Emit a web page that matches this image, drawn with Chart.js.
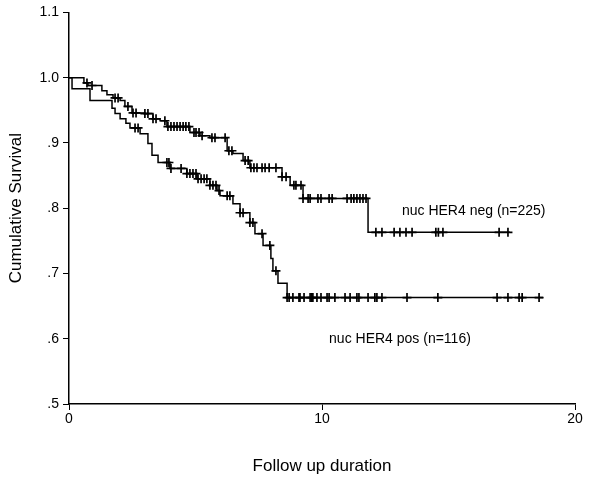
<!DOCTYPE html>
<html lang="en">
<head>
	<meta charset="utf-8" />
	<title>Cumulative Survival</title>
	<style>
		html, body { margin: 0; padding: 0; background: #fff; }
	</style>
</head>
<body>
	<canvas id="c1" width="600" height="481"></canvas>
	<script src="https://cdn.jsdelivr.net/npm/chart.js@4/dist/chart.umd.min.js"></script>
	<script>
		// Kaplan-Meier steps: [event time, survival after the event]
		var negSteps = [
			[0.59, 0.992], [0.75, 0.988], [1.30, 0.980], [1.50, 0.974], [1.74, 0.969],
			[2.02, 0.965], [2.21, 0.956], [2.49, 0.946], [3.00, 0.945], [3.32, 0.937],
			[3.60, 0.934], [3.87, 0.925], [4.78, 0.916], [5.18, 0.911], [5.57, 0.908],
			[6.25, 0.888], [6.48, 0.884], [6.88, 0.873], [7.15, 0.862], [8.42, 0.848],
			[8.74, 0.835], [9.25, 0.815], [11.82, 0.763]
		];
		var negEnd = 17.43;
		var negCensor = [
			0.71, 0.91, 1.82, 1.94, 2.33, 2.53, 2.65, 3.00, 3.12, 3.32, 3.44, 3.79, 3.91,
			4.03, 4.15, 4.27, 4.39, 4.51, 4.62, 4.74, 4.94, 5.02, 5.14, 5.26, 5.65, 5.77,
			6.17, 6.32, 6.44, 6.96, 7.08, 7.19, 7.31, 7.43, 7.63, 7.75, 7.91, 8.18, 8.42,
			8.58, 8.89, 8.97, 9.17, 9.25, 9.45, 9.53, 9.84, 9.96, 10.28, 10.40, 10.99,
			11.15, 11.26, 11.38, 11.50, 11.62, 11.74, 12.13, 12.37, 12.85, 13.08, 13.32,
			13.56, 14.50, 14.60, 14.78, 17.00, 17.35
		];

		var posSteps = [
			[0.12, 0.983], [0.83, 0.965], [1.70, 0.953], [1.82, 0.945], [2.02, 0.937],
			[2.25, 0.930], [2.41, 0.923], [2.81, 0.914], [3.12, 0.899], [3.28, 0.881],
			[3.52, 0.870], [3.99, 0.861], [4.66, 0.853], [5.06, 0.845], [5.57, 0.835],
			[5.85, 0.827], [5.97, 0.819], [6.48, 0.807], [6.76, 0.793], [7.15, 0.778],
			[7.35, 0.761], [7.67, 0.743], [7.98, 0.723], [8.06, 0.704], [8.26, 0.685],
			[8.62, 0.663]
		];
		var posEnd = 18.74;
		var posCensor = [
			2.61, 2.73, 3.87, 3.95, 4.03, 4.43, 4.66, 4.78, 4.90, 5.02, 5.10, 5.22, 5.34,
			5.45, 5.57, 5.69, 5.81, 5.93, 6.25, 6.36, 6.76, 6.88, 7.15, 7.27, 7.63, 7.94,
			8.18, 8.62, 8.70, 8.85, 9.09, 9.13, 9.29, 9.53, 9.60, 9.64, 9.80, 9.96, 10.20,
			10.28, 10.51, 10.91, 11.11, 11.38, 11.46, 11.82, 12.09, 12.17, 12.37, 13.36,
			14.58, 16.92, 17.35, 17.79, 17.91, 18.58
		];

		var xTicks = [0, 10, 20];
		var yTicks = [0.5, 0.6, 0.7, 0.8, 0.9, 1.0, 1.1];
		var curveLabels = [
			{text: 'nuc HER4 neg (n=225)', x: 13.16, y: 0.796},
			{text: 'nuc HER4 pos (n=116)', x: 10.28, y: 0.600}
		];
	</script>
	<script>
		function curve(steps, end)
		{
			var pts = [{x: 0, y: 1}];
			steps.forEach(function(s) { pts.push({x: s[0], y: s[1]}); });
			pts.push({x: end, y: steps[steps.length - 1][1]});
			return pts;
		}
		function survivalAt(steps, t)
		{
			var s = 1;
			for (var i = 0; i < steps.length; i++) {
				if (steps[i][0] <= t) s = steps[i][1];
			}
			return s;
		}
		function censorPoints(steps, times)
		{
			return times.map(function(t) { return {x: t, y: survivalAt(steps, t)}; });
		}
		function yLabel(v)
		{
			var s = v.toFixed(1);
			return v < 1 ? s.replace(/^0/, '') : s;
		}

		var FONT = '"Liberation Sans", Arial, sans-serif';

		var labelPlugin = {
			id: 'curvelabels',
			afterDraw: function(chart) {
				var ctx = chart.ctx;
				var xs = chart.scales.x, ys = chart.scales.y;
				ctx.save();
				ctx.font = '14px ' + FONT;
				ctx.fillStyle = '#000';
				ctx.textBaseline = 'middle';
				curveLabels.forEach(function(l) {
					ctx.fillText(l.text, xs.getPixelForValue(l.x), ys.getPixelForValue(l.y));
				});
				ctx.restore();
			}
		};

		var lineStyle = {
			borderColor: '#000', borderWidth: 1.5, pointRadius: 0, fill: false, stepped: 'before'
		};
		var markStyle = {
			type: 'scatter', pointStyle: 'cross', pointRadius: 4.5, borderColor: '#000',
			borderWidth: 1.7, showLine: false
		};

		var config = {
			type: 'line',
			plugins: [labelPlugin],
			data: {
				datasets: [
					Object.assign({label: 'neg', data: curve(negSteps, negEnd)}, lineStyle),
					Object.assign({label: 'pos', data: curve(posSteps, posEnd)}, lineStyle),
					Object.assign({label: 'neg censored', data: censorPoints(negSteps, negCensor)}, markStyle),
					Object.assign({label: 'pos censored', data: censorPoints(posSteps, posCensor)}, markStyle)
				]
			},
			options: {
				responsive: false,
				animation: false,
				layout: {padding: {top: 12, right: 25, left: 0, bottom: 0}},
				plugins: {legend: {display: false}, tooltip: {enabled: false}},
				scales: {
					x: {
						type: 'linear', min: 0, max: 20,
						afterBuildTicks: function(s) { s.ticks = xTicks.map(function(v) { return {value: v}; }); },
						afterFit: function(s) { s.height = 77; },
						grid: {drawOnChartArea: false, drawTicks: true, tickLength: 6, color: '#000'},
						border: {color: '#000', width: 1.5},
						ticks: {color: '#000', font: {family: FONT, size: 14}, padding: 1, maxRotation: 0},
						title: {display: true, text: 'Follow up duration', color: '#000',
							font: {family: FONT, size: 17}, padding: {top: 28}}
					},
					y: {
						min: 0.5, max: 1.1,
						afterBuildTicks: function(s) { s.ticks = yTicks.map(function(v) { return {value: v}; }); },
						afterFit: function(s) { s.width = 69; },
						grid: {drawOnChartArea: false, drawTicks: true, tickLength: 6, color: '#000'},
						border: {color: '#000', width: 1.5},
						ticks: {color: '#000', font: {family: FONT, size: 14}, padding: 4,
							callback: function(v) { return yLabel(v); }},
						title: {display: true, text: 'Cumulative Survival', color: '#000',
							font: {family: FONT, size: 17}, padding: {top: 6, bottom: 0}}
					}
				}
			}
		};

		var chart = new Chart(document.getElementById('c1'), config);
	</script>
</body>
</html>
